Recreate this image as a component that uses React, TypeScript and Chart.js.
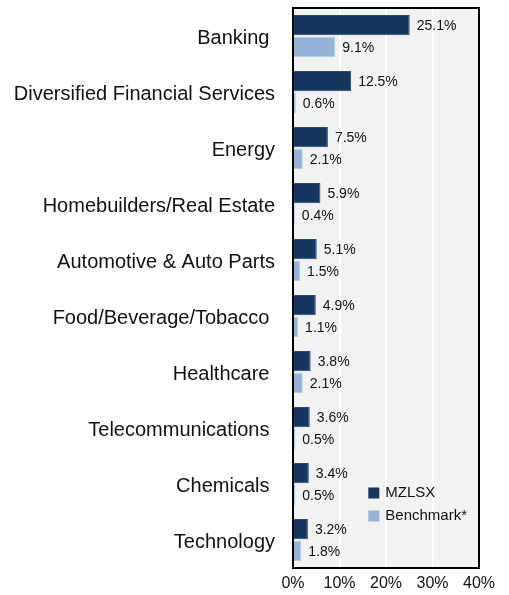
import React, { useEffect, useRef } from "react";
import { Chart, registerables } from "chart.js";

Chart.register(...registerables);

const categories = [
  "Banking ",
  "Diversified Financial Services",
  "Energy",
  "Homebuilders/Real Estate",
  "Automotive & Auto Parts",
  "Food/Beverage/Tobacco ",
  "Healthcare ",
  "Telecommunications ",
  "Chemicals ",
  "Technology",
];
const mzlsx = [25.1, 12.5, 7.5, 5.9, 5.1, 4.9, 3.8, 3.6, 3.4, 3.2];
const benchmark = [9.1, 0.6, 2.1, 0.4, 1.5, 1.1, 2.1, 0.5, 0.5, 1.8];
const seriesNames = ["MZLSX", "Benchmark*"];
const xTicks = [0, 10, 20, 30, 40];

const FONT = "'Liberation Sans', Arial, Helvetica, sans-serif";
const DARK = "#17365d";
const LIGHT = "#95b3d7";

const bgPlugin = {
  id: "bgBox",
  beforeDraw(chart: any) {
    const { ctx, chartArea } = chart;
    ctx.save();
    ctx.fillStyle = "#f2f2f2";
    ctx.fillRect(chartArea.left, chartArea.top, chartArea.right - chartArea.left, chartArea.bottom - chartArea.top);
    ctx.restore();
  },
  afterDraw(chart: any) {
    const { ctx, chartArea } = chart;
    ctx.save();
    ctx.strokeStyle = "#000";
    ctx.lineWidth = 2;
    ctx.strokeRect(chartArea.left, chartArea.top, chartArea.right - chartArea.left, chartArea.bottom - chartArea.top);
    // legend inside plot
    const xs = chart.scales.x;
    const ys = chart.scales.y;
    const lx = xs.getPixelForValue(16.2);
    const colors = [DARK, LIGHT];
    ctx.font = `15px ${FONT}`;
    ctx.textBaseline = "middle";
    ctx.textAlign = "left";
    const y0 = ys.getPixelForValue(8) + 9;
    seriesNames.forEach((name, i) => {
      const cy = y0 + i * 23;
      ctx.fillStyle = colors[i];
      ctx.fillRect(lx, cy - 5.5, 11, 11);
      ctx.fillStyle = "#111";
      ctx.fillText(name, lx + 17, cy);
    });
    ctx.restore();
  },
};

const labelPlugin = {
  id: "valueLabels",
  afterDatasetsDraw(chart: any) {
    const { ctx } = chart;
    ctx.save();
    ctx.font = `14px ${FONT}`;
    ctx.fillStyle = "#111";
    ctx.textAlign = "left";
    ctx.textBaseline = "middle";
    chart.data.datasets.forEach((ds: any, di: number) => {
      const meta = chart.getDatasetMeta(di);
      meta.data.forEach((bar: any, i: number) => {
        ctx.fillText(ds.data[i].toFixed(1) + "%", bar.x + 7, bar.y + 1);
      });
    });
    ctx.restore();
  },
};

export default function App() {
  const ref = useRef<HTMLCanvasElement>(null);
  useEffect(() => {
    if (!ref.current) return;
    const chart = new Chart(ref.current, {
      type: "bar",
      data: {
        labels: categories,
        datasets: [
          {
            label: seriesNames[0],
            data: mzlsx,
            backgroundColor: DARK,
            borderColor: "#2a4a72",
            borderWidth: 1,
            categoryPercentage: 0.78,
            barPercentage: 0.93,
          },
          {
            label: seriesNames[1],
            data: benchmark,
            backgroundColor: LIGHT,
            borderColor: "#b8cce4",
            borderWidth: 1,
            categoryPercentage: 0.78,
            barPercentage: 0.93,
          },
        ],
      },
      plugins: [bgPlugin, labelPlugin],
      options: {
        indexAxis: "y",
        animation: false,
        responsive: true,
        maintainAspectRatio: false,
        layout: { padding: { top: 8, right: 30, left: 0, bottom: 0 } },
        plugins: { legend: { display: false }, tooltip: { enabled: false } },
        scales: {
          x: {
            min: 0,
            max: 40,
            afterBuildTicks(scale: any) {
              scale.ticks = xTicks.map((v) => ({ value: v }));
            },
            afterFit(scale: any) {
              scale.height = 27;
            },
            ticks: {
              callback: (v: any) => v + "%",
              color: "#111",
              font: { family: FONT, size: 16 },
              padding: 6,
            },
            grid: { color: "#ffffff", lineWidth: 2, drawTicks: false },
            border: { display: false },
          },
          y: {
            afterFit(scale: any) {
              scale.width = 293;
              scale.paddingTop = 0;
              scale.paddingBottom = 0;
            },
            ticks: {
              color: "#111",
              font: { family: FONT, size: 20 },
              padding: 18,
              labelOffset: 2,
            },
            grid: { display: false, drawTicks: false },
            border: { display: false },
          },
        },
      },
    } as any);
    return () => chart.destroy();
  }, []);
  return (
    <div style={{ position: "fixed", left: 0, top: 0, width: 509, height: 595, background: "#fff" }}>
      <canvas ref={ref} />
    </div>
  );
}
